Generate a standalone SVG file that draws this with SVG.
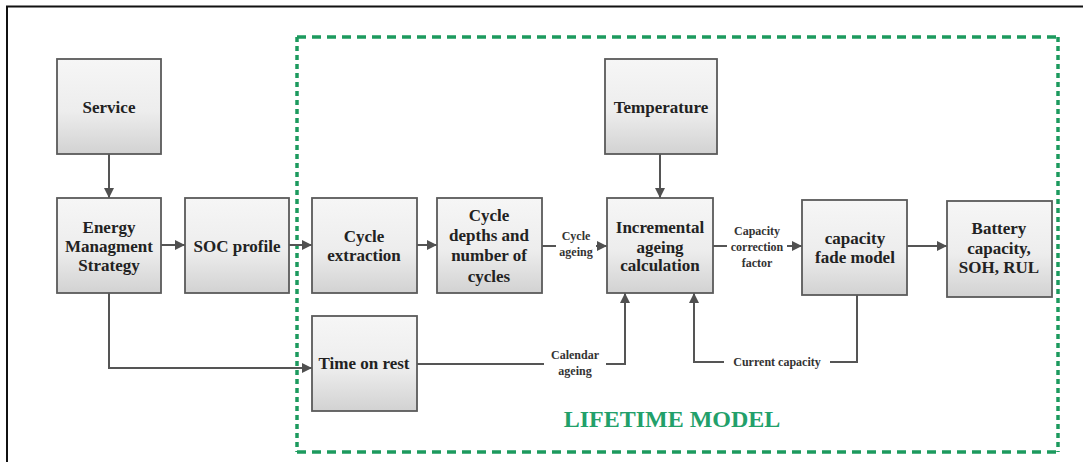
<svg xmlns="http://www.w3.org/2000/svg" width="1083" height="462" viewBox="0 0 1083 462">
<defs>
<linearGradient id="boxg" x1="0" y1="0" x2="0" y2="1">
<stop offset="0" stop-color="#f6f6f6"/>
<stop offset="0.55" stop-color="#ededed"/>
<stop offset="1" stop-color="#d2d2d2"/>
</linearGradient>
<marker id="arr" viewBox="0 0 10 10" refX="10" refY="5" markerWidth="10" markerHeight="10" markerUnits="userSpaceOnUse" orient="auto">
<path d="M0,0 L10,5 L0,10 z" fill="#505050"/>
</marker>
</defs>
<style>
.box{fill:url(#boxg);stroke:#5a5a5a;stroke-width:1.8}
.t{font-family:"Liberation Serif","Times New Roman",serif;font-weight:bold;font-size:17px;fill:#222;text-anchor:middle}
.s{font-family:"Liberation Serif","Times New Roman",serif;font-weight:bold;font-size:12px;fill:#333;text-anchor:middle}
.c{fill:none;stroke:#555;stroke-width:2}
.g{stroke:#1c9a5e;stroke-width:3.5;fill:none}
.bg{fill:#fff}
</style>
<rect x="0" y="0" width="1083" height="462" fill="#fff"/>
<path d="M7,462 V6.5 H1083" fill="none" stroke="#111" stroke-width="2"/>
<g id="lifetime-frame">
<line class="g" x1="297" y1="37" x2="1058" y2="37" stroke-dasharray="9 6"/>
<line class="g" x1="297" y1="452" x2="1058" y2="452" stroke-dasharray="9 6"/>
<line class="g" x1="297" y1="37" x2="297" y2="452" stroke-dasharray="5 4"/>
<line class="g" x1="1058" y1="37" x2="1058" y2="452" stroke-dasharray="5 4"/>
<text x="672" y="427" font-family="Liberation Serif, Times New Roman, serif" font-weight="bold" font-size="24" fill="#22a06a" text-anchor="middle">LIFETIME MODEL</text>
</g>
<g id="connectors">
<line class="c" x1="109" y1="154" x2="109" y2="198" marker-end="url(#arr)"/>
<line class="c" x1="161" y1="245" x2="185" y2="245" marker-end="url(#arr)"/>
<line class="c" x1="289" y1="245" x2="312" y2="245" marker-end="url(#arr)"/>
<line class="c" x1="417" y1="245" x2="437" y2="245" marker-end="url(#arr)"/>
<line class="c" x1="542" y1="246" x2="607" y2="246" marker-end="url(#arr)"/>
<line class="c" x1="660" y1="154" x2="660" y2="198" marker-end="url(#arr)"/>
<line class="c" x1="713" y1="246" x2="802" y2="246" marker-end="url(#arr)"/>
<line class="c" x1="907" y1="246" x2="947" y2="246" marker-end="url(#arr)"/>
<polyline class="c" points="109,293 109,368 312,368" marker-end="url(#arr)"/>
<polyline class="c" points="417,364 625,364 625,293" marker-end="url(#arr)"/>
<polyline class="c" points="857,295 857,362 694,362 694,293" marker-end="url(#arr)"/>
<rect class="bg" x="556" y="229" width="40" height="29"/>
<text class="s" x="576" y="240">Cycle</text>
<text class="s" x="576" y="256">ageing</text>
<rect class="bg" x="727" y="222" width="60" height="47"/>
<text class="s" x="757" y="235">Capacity</text>
<text class="s" x="757" y="251">correction</text>
<text class="s" x="757" y="267">factor</text>
<rect class="bg" x="544" y="346" width="62" height="31"/>
<text class="s" x="575" y="359">Calendar</text>
<text class="s" x="575" y="375">ageing</text>
<rect class="bg" x="724" y="354" width="106" height="15"/>
<text class="s" x="777" y="366">Current capacity</text>
</g>
<g id="service"><rect class="box" x="57" y="59" width="104" height="95"/><text class="t" x="109" y="113">Service</text></g>
<g id="ems"><rect class="box" x="57" y="198" width="104" height="95"/><text class="t" x="109" y="233">Energy</text><text class="t" x="109" y="252">Managment</text><text class="t" x="109" y="271">Strategy</text></g>
<g id="soc"><rect class="box" x="185" y="198" width="104" height="95"/><text class="t" x="237" y="252">SOC profile</text></g>
<g id="cycle-extraction"><rect class="box" x="312" y="198" width="105" height="95"/><text class="t" x="364" y="242">Cycle</text><text class="t" x="364" y="261">extraction</text></g>
<g id="cycle-depths"><rect class="box" x="437" y="198" width="105" height="95"/><text class="t" x="489" y="221">Cycle</text><text class="t" x="489" y="241">depths and</text><text class="t" x="489" y="261">number of</text><text class="t" x="489" y="282">cycles</text></g>
<g id="time-on-rest"><rect class="box" x="312" y="316" width="105" height="95"/><text class="t" x="364" y="369">Time on rest</text></g>
<g id="temperature"><rect class="box" x="605" y="59" width="112" height="95"/><text class="t" x="661" y="113">Temperature</text></g>
<g id="incremental"><rect class="box" x="607" y="198" width="106" height="95"/><text class="t" x="660" y="233">Incremental</text><text class="t" x="660" y="253">ageing</text><text class="t" x="660" y="271">calculation</text></g>
<g id="capacity-fade"><rect class="box" x="802" y="200" width="105" height="95"/><text class="t" x="855" y="244">capacity</text><text class="t" x="855" y="263">fade model</text></g>
<g id="battery"><rect class="box" x="947" y="201" width="105" height="96"/><text class="t" x="999" y="234">Battery</text><text class="t" x="999" y="254">capacity,</text><text class="t" x="999" y="273">SOH, RUL</text></g>
</svg>
